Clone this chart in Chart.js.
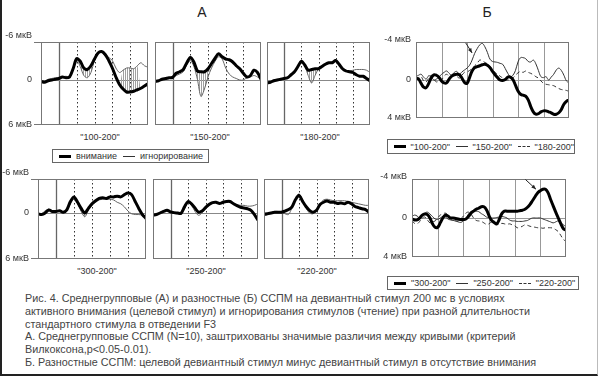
<!DOCTYPE html>
<html>
<head>
<meta charset="utf-8">
<script src="https://cdn.jsdelivr.net/npm/chart.js@4.4.1/dist/chart.umd.min.js"></script>
<style>
body{margin:0;background:#fff}
#fig{position:relative;width:600px;height:379px;overflow:hidden;background:#fff;font-family:"Liberation Sans",Arial,sans-serif;color:#222}
#fig canvas{position:absolute}
.c{position:absolute;white-space:nowrap;transform:translate(-50%,-50%);line-height:1}
.cap{font-size:9px;color:#333}
.ttl{font-size:14px;color:#222}
.leg{position:absolute;border:1px solid #666;box-sizing:border-box;display:flex;align-items:center;font-size:9px;color:#333;white-space:nowrap}
.sw{display:inline-block;height:0;width:12px;margin:0 5px 0 6px}
.thick{border-top:3px solid #000}
.thin{border-top:1px solid #333}
.dash{border-top:1px dashed #333}
#note{position:absolute;left:25px;top:292px;font-size:10.8px;line-height:12.8px;color:#444;white-space:nowrap}
#border{position:absolute;left:0;top:0;width:598px;height:376px;box-sizing:border-box;border-left:2px solid #222;border-bottom:2px solid #222;border-right:1px solid #bbb}
</style>
</head>
<body>
<div id="fig">
  <div id="border"></div>
  <div class="c ttl" style="left:202px;top:12px">А</div>
  <div class="c ttl" style="left:487px;top:12px">Б</div>

  <div class="c cap" style="left:100px;top:137px">"100-200"</div>
  <div class="c cap" style="left:210px;top:137px">"150-200"</div>
  <div class="c cap" style="left:320px;top:137px">"180-200"</div>
  <div class="c cap" style="left:97px;top:271px">"300-200"</div>
  <div class="c cap" style="left:206px;top:271px">"250-200"</div>
  <div class="c cap" style="left:317px;top:271px">"220-200"</div>

  <div class="leg" style="left:52px;top:149px;width:157px;height:14px">
    <span class="sw thick"></span>внимание<span class="sw thin"></span>игнорирование
  </div>
  <div class="leg" style="left:387px;top:139px;width:188px;height:15px">
    <span class="sw thick"></span>"100-200"<span class="sw thin"></span>"150-200"<span class="sw dash"></span>"180-200"
  </div>
  <div class="leg" style="left:387px;top:276px;width:192px;height:14px">
    <span class="sw thick"></span>"300-200"<span class="sw thin"></span>"250-200"<span class="sw dash"></span>"220-200"
  </div>

  <div id="note">Рис. 4. Среднегрупповые (А) и разностные (Б) ССПМ на девиантный стимул 200 мс в условиях<br>активного внимания (целевой стимул) и игнорирования стимулов (чтение) при разной длительности<br>стандартного стимула  в отведении F3<br>А. Среднегрупповые ССПМ (N=10), заштрихованы значимые различия между кривыми (критерий<br>Вилкоксона,p&lt;0.05-0.01).<br>Б. Разностные ССПМ: целевой девиантный стимул минус девиантный стимул в отсутствие внимания</div>
</div>

<script>
// time, ms
const tA = [-100,-80,-60,-40,-20,0,20,40,60,80,100,120,140,160,180,200,220,240,260,280,300,320,340,360,380,400,420,440,460,480,500];
const tB = [-100,-90,-80,-70,-60,-50,-40,-30,-20,-10,0,10,20,30,40,50,60,70,80,90,100,110,120,130,140,150,160,170,180,190,
            200,210,220,230,240,250,260,270,280,290,300,310,320,330,340,350,360,370,380,390,400,410,420,430,440,450,460,470,480,490,500];

// А: внимание (att) / игнорирование (ign), мкВ
const att100 = [0.2,0.3,0.1,0,-0.1,-0.2,-0.4,-0.3,-0.4,-1.5,-2.85,-2.5,-1.6,-1.4,-1.9,-2.8,-3.6,-3.8,-3.4,-2.6,-1.6,-0.4,0.6,1.2,1.6,1.6,1.5,1.3,1.1,0.8,0.5];
const ign100 = [0.1,0.2,-0.1,-0.2,-0.3,-0.3,-0.4,-0.5,-0.4,-1.4,-2.6,-1.8,-0.6,-0.3,-1.0,-2.6,-3.5,-3.8,-3.2,-3.0,-2.6,-1.6,-1.0,-1.3,-1.6,-1.6,-1.5,-1.9,-2.3,-1.9,-1.7];
const att150 = [0.2,0.1,-0.1,-0.2,-0.3,-0.35,-0.9,-1.1,-1.4,-2.3,-3.0,-2.4,-1.2,-1.1,-1.1,-1.5,-2.2,-2.9,-3.5,-3.1,-2.8,-2.7,-2.4,-1.9,-1.5,-0.9,-0.4,-0.6,-1.3,-1.0,-0.1];
const ign150 = [0.3,0.1,-0.1,-0.1,-0.2,-0.3,-0.6,-0.8,-1.1,-2.0,-2.6,-1.8,-0.1,2.2,1.2,-0.4,-1.6,-2.5,-3.1,-2.8,-1.6,-0.8,-0.4,-0.2,0,0,-0.3,-0.4,-0.6,-0.4,-0.1];
const att180 = [0.4,0.3,0.1,0,-0.1,-0.2,-0.3,-0.7,-1.1,-1.8,-2.5,-2.0,-1.3,-1.4,-1.5,-1.5,-1.8,-2.1,-2.3,-2.3,-2.6,-2.1,-1.5,-1.2,-1.1,-1.0,-0.7,-0.5,-0.5,-0.2,0.1];
const ign180 = [0.3,0.2,0,-0.1,-0.2,-0.3,-0.4,-0.5,-1.0,-1.9,-2.4,-1.9,-0.6,0.4,-0.6,-1.5,-1.9,-2.0,-2.3,-2.4,-2.5,-2.0,-1.6,-1.3,-1.2,-1.3,-1.4,-1.4,-1.4,-1.3,-1.0];
const att300 = [0.1,0.2,0,-0.4,-0.2,-0.2,-0.3,-0.1,-0.4,-1.5,-2.1,-1.4,-0.6,0,-0.6,-1.2,-1.6,-1.9,-2.0,-1.9,-2.1,-2.1,-2.2,-2.1,-2.4,-2.6,-2.4,-1.5,-0.6,0.2,0.7];
const ign300 = [0.1,0.1,-0.3,-0.5,-0.2,-0.2,-0.2,-0.2,-0.3,-1.2,-1.8,-1.2,-0.2,0.5,-0.4,-1.0,-1.4,-1.7,-1.8,-1.8,-1.8,-1.7,-1.4,-1.2,-0.8,-0.25,0.1,0.2,0.2,0.3,0.5];
const att250 = [0.3,0.2,0,-0.2,-0.35,-0.15,-0.05,0,0.05,-0.8,-1.5,-1.2,-0.65,-0.1,-0.25,-0.7,-1.1,-1.35,-1.4,-1.25,-1.4,-1.5,-1.5,-1.2,-0.95,-0.75,-0.65,-0.55,-0.35,0.2,0.95];
const ign250 = [0.4,0.2,-0.1,-0.2,-0.3,-0.1,0,0.1,0.1,-0.6,-1.3,-1.0,-0.2,0.3,0,-0.6,-1.0,-1.3,-1.4,-1.3,-1.4,-1.4,-1.4,-1.3,-1.1,-1.0,-1.0,-0.9,-0.9,-1.0,-1.2];
const att220 = [0.15,0.1,0,-0.1,-0.1,-0.1,-0.25,-0.45,-0.8,-1.75,-2.3,-1.55,-0.85,-0.35,-0.1,-0.35,-1.1,-1.4,-1.55,-1.4,-1.4,-1.25,-1.3,-1.2,-1.4,-1.2,-0.85,-0.7,-0.55,-0.45,-0.1];
const ign220 = [0.4,0.2,0,-0.2,-0.2,-0.1,0.1,0.2,-0.7,-1.8,-2.5,-1.7,-0.7,0,0.1,-0.4,-1.2,-1.7,-1.8,-1.7,-1.6,-1.6,-1.6,-1.6,-1.5,-1.4,-1.3,-1.2,-1.1,-1.0,-1.0];

// significant intervals (hatched), ms
const sig100 = [[120,200],[360,440]];
const sig150 = [[120,200]];
const sig180 = [[140,180]];
const sig300 = [[140,180]];
const sig250 = [];
const sig220 = [];

// Б: difference waves, мкВ
const d100 = [-0.18,-0.1,0.35,0.75,0.8,0.35,-0.25,-0.55,-0.5,-0.3,
              0.1,0.3,0.3,-0.1,-0.4,-0.55,-0.6,-0.55,-0.2,0.25,
              0.35,-0.25,-0.95,-1.3,-1.4,-1.5,-1.6,-1.65,-1.55,-1.3,
              -0.9,-0.55,-0.25,0,0.05,-0.05,-0.3,-0.3,-0.05,0.55,
              1.15,1.5,1.6,1.7,2.1,2.8,3.35,3.6,3.55,3.35,
              3.25,3.25,3.35,3.45,3.6,3.6,3.45,3.1,2.55,2.25,2.1];
const d150 = [-0.35,-0.5,-0.6,-0.3,-0.1,-0.45,-0.3,0,-0.1,-0.3,
              -0.6,-0.8,-0.95,-0.7,-0.5,-0.8,-0.9,-0.6,-0.85,-1.05,
              -1.25,-1.55,-2.1,-2.8,-3.3,-3.7,-3.85,-3.5,-2.9,-2.2,
              -1.95,-1.9,-1.85,-1.75,-1.65,-1.2,-0.7,-0.35,-0.5,-1.0,
              -1.9,-2.35,-2.35,-2.25,-1.95,-1.9,-2.1,-1.7,-1.0,-0.35,
              -0.25,-0.35,0,-0.3,-0.6,-1.05,-1.25,-1.0,-0.5,0.1,0.3];
const d180 = [0,-0.2,-0.35,0.1,0.2,-0.2,-0.5,-0.1,0.2,0.1,
              0,-0.4,-0.6,-0.4,-0.35,-0.5,-0.4,-0.2,-0.5,-0.8,
              -0.85,-1.0,-1.2,-1.5,-1.75,-2.1,-2.0,-1.85,-1.7,-1.45,
              -1.1,-0.8,-0.6,-0.4,-0.2,0,0,0,-0.2,-0.5,
              -0.75,-0.9,-0.8,-0.95,-0.8,-0.7,-0.55,-0.35,-0.2,0.1,
              0.35,0.45,0.5,0.55,0.6,0.75,0.9,1.0,1.05,1.1,1.2];
const d300 = [0.1,0.2,0.2,0,-0.3,-0.4,-0.35,0,0.6,0.95,
              0.95,0.5,0,-0.3,-0.2,0,0,0.05,0.1,0.15,
              0.15,0.1,-0.15,-0.5,-0.7,-0.9,-1.0,-1.15,-1.15,-0.85,
              -0.25,0.25,0.45,0.6,0.15,-0.45,-0.7,-0.7,-0.7,-0.7,
              -0.7,-0.7,-0.75,-0.8,-0.9,-1.1,-1.4,-1.8,-2.2,-2.6,
              -2.8,-2.95,-2.95,-2.6,-1.9,-1.25,-0.6,0,0.6,1.1,1.25];
const d250 = [-0.15,-0.3,-0.2,0,-0.3,-0.5,-0.6,-0.4,-0.15,0.1,
              0.15,0,-0.15,-0.1,0.1,0.2,0.25,0.3,0.4,0.45,
              0.3,0,-0.4,-0.65,-0.75,-0.7,-0.65,-0.45,-0.3,-0.1,
              -0.05,0,0,-0.05,-0.1,-0.15,-0.1,0,0.2,0.3,
              0.3,0.35,0.35,0.35,0.3,0.25,0.1,0,0,0,
              0,0.1,0.2,0.3,0.4,0.5,0.4,0.3,0.5,0.7,0.9];
const d220 = [0.3,0.55,0.6,0.35,0,-0.1,0.2,0.5,0.4,0.3,
              0,-0.3,-0.4,-0.5,-0.3,0.1,0.25,0.3,0.3,0.1,
              -0.2,-0.5,-0.6,-0.4,0,0.25,0.3,0.35,0.5,0.65,
              0.6,0.4,0.5,0.6,0.65,0.55,0.6,0.65,0.6,0.7,
              0.8,1.0,0.95,0.85,0.7,0.75,0.85,0.9,0.95,1.0,
              1.0,1.05,1.0,1.0,1.0,1.05,1.2,1.4,1.8,2.2,2.4];

// arrows in Б: [t start, v start, t end, v end]
const arrowB1 = [95,-3.9,120,-2.85];
const arrowB2 = [342,-3.95,383,-2.95];

const fig = document.getElementById('fig');
const PAD = {left: 40, top: 14, right: 3, bottom: 6};
const FONT = '"Liberation Sans", Arial, sans-serif';

function pts(t, v) { return t.map((x, i) => ({x: x, y: v[i]})); }
function hatchPts(t, ign, att, sig) {
  return t.map((x, i) => ({x: x, y: sig.some(r => x >= r[0] && x <= r[1]) ? ign[i] : att[i]}));
}

const hc = document.createElement('canvas');
hc.width = 2; hc.height = 4;
const hg = hc.getContext('2d');
hg.fillStyle = '#a0a0a0'; hg.fillRect(0, 0, 1, 4);
const HATCH = hg.createPattern(hc, 'repeat');

// grid, box, y labels and arrows for each panel
Chart.register({
  id: 'frame',
  beforeDatasetsDraw(chart, args, o) {
    const {ctx, chartArea: a, scales: {x, y}} = chart;
    ctx.save();
    const vline = (t) => {
      const px = Math.round(x.getPixelForValue(t)) + 0.5;
      ctx.beginPath(); ctx.moveTo(px, a.top); ctx.lineTo(px, a.bottom); ctx.stroke();
    };
    ctx.strokeStyle = o.solidColor; ctx.lineWidth = o.solidWidth;
    (o.solid || []).forEach(vline);
    ctx.strokeStyle = '#333'; ctx.lineWidth = 1; ctx.setLineDash([1.5, 2.5]);
    (o.dotted || []).forEach(vline);
    ctx.setLineDash([]);
    const py = Math.round(y.getPixelForValue(0)) + 0.5;
    ctx.strokeStyle = o.zeroColor; ctx.lineWidth = 1;
    ctx.beginPath(); ctx.moveTo(a.left, py); ctx.lineTo(a.right, py); ctx.stroke();
    ctx.restore();
  },
  afterDatasetsDraw(chart, args, o) {
    const {ctx, chartArea: a, scales: {x, y}} = chart;
    ctx.save();
    ctx.strokeStyle = o.boxColor; ctx.lineWidth = 1;
    ctx.strokeRect(a.left + 0.5, a.top + 0.5, a.right - a.left - 1, a.bottom - a.top - 1);
    if (o.labels) {
      const py0 = y.getPixelForValue(0);
      ctx.fillStyle = '#333'; ctx.font = o.labelFont + ' ' + FONT;
      ctx.textAlign = 'right'; ctx.textBaseline = 'middle';
      const lx = a.left - o.labelGap;
      ctx.fillText(o.labels[0], lx, a.top - o.topShift);
      ctx.fillText(o.labels[1], lx, py0);
      ctx.fillText(o.labels[2], lx, a.bottom);
      if (o.ticks) {
        ctx.beginPath();
        ctx.moveTo(a.left - o.ticks, a.top + 0.5); ctx.lineTo(a.left, a.top + 0.5);
        ctx.moveTo(a.left - o.ticks, a.bottom - 0.5); ctx.lineTo(a.left, a.bottom - 0.5);
        ctx.stroke();
      }
    }
    if (o.arrow) {
      const [t1, v1, t2, v2] = o.arrow;
      const x1 = x.getPixelForValue(t1), y1 = y.getPixelForValue(v1);
      const x2 = x.getPixelForValue(t2), y2 = y.getPixelForValue(v2);
      const ang = Math.atan2(y2 - y1, x2 - x1);
      ctx.strokeStyle = '#222'; ctx.fillStyle = '#222'; ctx.lineWidth = 1;
      ctx.beginPath(); ctx.moveTo(x1, y1); ctx.lineTo(x2, y2); ctx.stroke();
      ctx.beginPath(); ctx.moveTo(x2, y2);
      ctx.lineTo(x2 - 5 * Math.cos(ang - 0.4), y2 - 5 * Math.sin(ang - 0.4));
      ctx.lineTo(x2 - 5 * Math.cos(ang + 0.4), y2 - 5 * Math.sin(ang + 0.4));
      ctx.closePath(); ctx.fill();
    }
    ctx.restore();
  }
});

function panel(box, yMin, yMax, datasets, frame) {
  const cv = document.createElement('canvas');
  cv.width = box[2] - box[0] + PAD.left + PAD.right;
  cv.height = box[3] - box[1] + PAD.top + PAD.bottom;
  cv.style.left = (box[0] - PAD.left) + 'px';
  cv.style.top = (box[1] - PAD.top) + 'px';
  fig.appendChild(cv);
  return new Chart(cv, {
    type: 'line',
    data: {datasets: datasets},
    options: {
      responsive: false, animation: false, events: [],
      layout: {padding: PAD},
      elements: {point: {radius: 0}},
      plugins: {legend: {display: false}, tooltip: {enabled: false}, frame: frame},
      scales: {
        x: {type: 'linear', min: -100, max: 500, display: false},
        y: {type: 'linear', min: yMin, max: yMax, reverse: true, display: false}
      }
    }
  });
}

function aSets(att, ign, sig) {
  return [
    {data: pts(tA, att), borderColor: '#000', borderWidth: 3, tension: 0.3, fill: false},
    {data: pts(tA, ign), borderColor: '#666', borderWidth: 1, tension: 0.3, fill: false},
    {data: hatchPts(tA, ign, att, sig), borderWidth: 0, borderColor: 'rgba(0,0,0,0)',
     backgroundColor: HATCH, fill: {target: 0}, tension: 0.3}
  ];
}
function bSets(d1, d2, d3) {
  return [
    {data: pts(tB, d1), borderColor: '#000', borderWidth: 3, tension: 0.4, fill: false},
    {data: pts(tB, d2), borderColor: '#333', borderWidth: 1, tension: 0.4, fill: false},
    {data: pts(tB, d3), borderColor: '#333', borderWidth: 1, borderDash: [4, 3], tension: 0.4, fill: false}
  ];
}

const aFrame = (lab) => ({solid: [0], dotted: [100, 200, 300, 400], solidColor: '#666', solidWidth: 1.3,
  zeroColor: '#888', boxColor: '#777', labels: lab ? ['-6 мкВ', '0', '6 мкВ'] : null,
  labelFont: '9px', labelGap: 9, topShift: 6, ticks: 7});
const bFrame = (arrow) => ({solid: [0, 100, 200, 300, 400], dotted: [], solidColor: '#999', solidWidth: 1,
  zeroColor: '#999', boxColor: '#777', labels: ['-4 мкВ', '0', '4 мкВ'],
  labelFont: '9px', labelGap: 5, topShift: 2, ticks: 0, arrow: arrow});

const topMin = -6 * 38 / 45, botMin = -6 * 34 / 46;

panel([41, 42, 148, 125], topMin, 6, aSets(att100, ign100, sig100), aFrame(true));
panel([155, 42, 261, 125], topMin, 6, aSets(att150, ign150, sig150), aFrame(false));
panel([267, 42, 370, 125], topMin, 6, aSets(att180, ign180, sig180), aFrame(false));
panel([38, 179, 146, 259], botMin, 6, aSets(att300, ign300, sig300), aFrame(true));
panel([153, 179, 258, 259], botMin, 6, aSets(att250, ign250, sig250), aFrame(false));
panel([264, 179, 369, 259], botMin, 6, aSets(att220, ign220, sig220), aFrame(false));
panel([416, 42, 569, 118], -4, 4, bSets(d100, d150, d180), bFrame(arrowB1));
panel([412, 179, 566, 257], -4, 4, bSets(d300, d250, d220), bFrame(arrowB2));
</script>
</body>
</html>
